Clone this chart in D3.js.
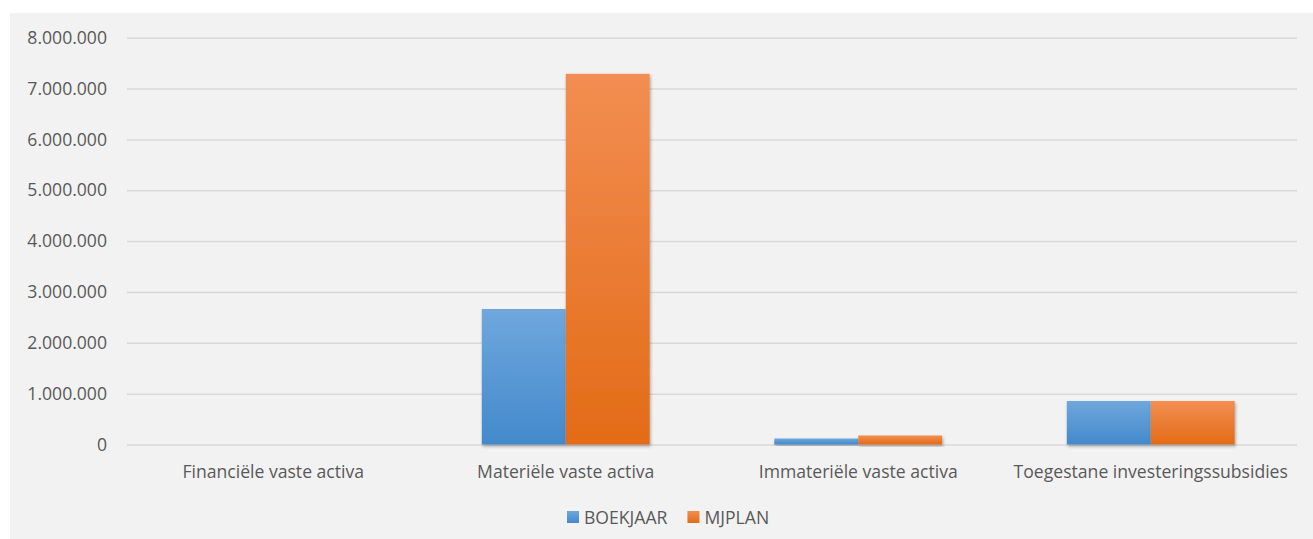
<!DOCTYPE html>
<html>
<head>
    <meta charset="UTF-8">
    <title></title>
    <style>
        body { margin: 0; background: #fff; font-family: 'Open Sans', sans-serif; }
        .tick text, .catlabel, .legend text { fill: #595959; font-size: 17.6px; }
    </style>
</head>
<body>
    <script src="https://d3js.org/d3.v7.min.js"></script>
    <svg id="chart"></svg>
    <script>
        /// data
        var categories = ["Financiële vaste activa", "Materiële vaste activa", "Immateriële vaste activa", "Toegestane investeringssubsidies"];
        var seriesNames = ["BOEKJAAR", "MJPLAN"];
        var boekjaar = [0, 2665000, 118000, 856000];
        var mjplan = [0, 7290000, 177000, 856000];
        var yTicks = [0, 1000000, 2000000, 3000000, 4000000, 5000000, 6000000, 7000000, 8000000];

        var width = 1313, height = 539;
        var svg = d3.select("#chart").attr("width", width).attr("height", height);

        // gradients + shadow
        var defs = svg.append("defs");
        var grads = [["gBlue", "#6fa7dd", "#4389cb"], ["gOrange", "#f28e52", "#e36b17"]];
        grads.forEach(function(g) {
            var lg = defs.append("linearGradient").attr("id", g[0])
                .attr("x1", 0).attr("y1", 0).attr("x2", 0).attr("y2", 1);
            lg.append("stop").attr("offset", "0%").attr("stop-color", g[1]);
            lg.append("stop").attr("offset", "100%").attr("stop-color", g[2]);
        });
        defs.append("filter").attr("id", "shadow")
            .attr("x", "-20%").attr("y", "-20%").attr("width", "140%").attr("height", "140%")
            .append("feDropShadow").attr("dx", 1).attr("dy", 2).attr("stdDeviation", 1.6)
            .attr("flood-color", "#000").attr("flood-opacity", 0.3);

        // background
        svg.append("rect").attr("x", 10).attr("y", 13).attr("width", width - 10).attr("height", height - 13)
            .attr("fill", "#f2f2f2");

        var x = d3.scaleBand().domain(categories).range([127, 1297])
            .paddingInner(0.426).paddingOuter(0.213);
        var xs = d3.scaleBand().domain(seriesNames).range([0, x.bandwidth()]);
        var y = d3.scaleLinear().domain([0, 8000000]).range([444.5, 37.7]);

        var fmt = function(v) { return d3.format(",")(v).replace(/,/g, "."); };

        // grid + y labels
        var yAxis = svg.append("g").attr("transform", "translate(127,0)")
            .call(d3.axisLeft(y).tickValues(yTicks).tickSize(-1170).tickPadding(20).tickFormat(fmt));
        yAxis.select(".domain").remove();
        yAxis.selectAll(".tick line").attr("stroke", "#d9d9d9").attr("stroke-width", 1.5);
        yAxis.selectAll(".tick text").attr("font-family", "'Open Sans', sans-serif");

        // bars
        var colorIds = { "BOEKJAAR": "gBlue", "MJPLAN": "gOrange" };
        var rows = categories.map(function(c, i) {
            return { cat: c, vals: [{ s: "BOEKJAAR", v: boekjaar[i] }, { s: "MJPLAN", v: mjplan[i] }] };
        });
        var groups = svg.append("g").selectAll("g").data(rows).enter().append("g")
            .attr("transform", function(d) { return "translate(" + x(d.cat) + ",0)"; });
        groups.selectAll("rect").data(function(d) { return d.vals.filter(function(e) { return e.v > 0; }); })
            .enter().append("rect")
            .attr("x", function(d) { return xs(d.s); })
            .attr("width", xs.bandwidth())
            .attr("y", function(d) { return y(d.v); })
            .attr("height", function(d) { return y(0) - y(d.v); })
            .attr("fill", function(d) { return "url(#" + colorIds[d.s] + ")"; })
            .attr("filter", "url(#shadow)");

        // category labels
        svg.append("g").selectAll("text").data(categories).enter().append("text")
            .attr("class", "catlabel")
            .attr("x", function(d) { return x(d) + x.bandwidth() / 2; })
            .attr("y", 478)
            .attr("text-anchor", "middle")
            .text(function(d) { return d; });

        // legend
        var legend = svg.append("g").attr("class", "legend");
        var lx = 567;
        seriesNames.forEach(function(s, i) {
            var g = legend.append("g").attr("transform", "translate(" + lx + ",511)");
            g.append("rect").attr("width", 12).attr("height", 12).attr("fill", "url(#" + colorIds[s] + ")");
            var t = g.append("text").attr("x", 17).attr("y", 12.5).text(s);
            lx += 17 + t.node().getComputedTextLength() + 20;
        });
    </script>
</body>
</html>
